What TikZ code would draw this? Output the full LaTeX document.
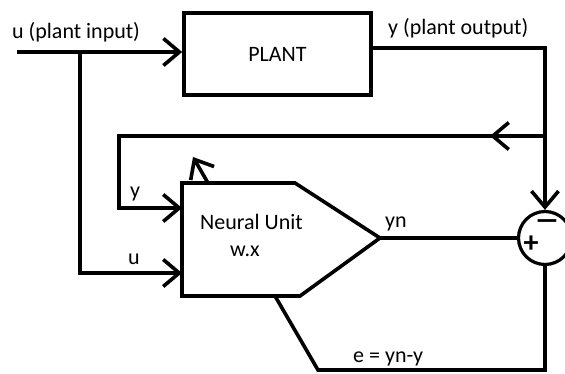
\documentclass[tikz,border=0pt]{standalone}
\usepackage{fontspec}
\setmainfont{Carlito}
\usepackage{tikz}
\usetikzlibrary{arrows.meta,positioning,calc}

\begin{document}
\begin{tikzpicture}[x=1pt,y=-1pt,
  wire/.style={line width=3.6pt},
  arr/.style={wire,-{Straight Barb[length=16pt,width=27pt]}},
  lbl/.style={inner sep=0pt,anchor=base west,font=\fontsize{22}{26}\selectfont},
  sign/.style={inner sep=0pt,anchor=base,font=\fontsize{30}{30}\selectfont\bfseries}]
  \useasboundingbox (0,0) rectangle (565,374);

  % plant
  \node[draw,wire,minimum width=187pt,minimum height=82pt,inner sep=0pt,
    font=\fontsize{22}{26}\selectfont] (plant) at (277.5,54) {PLANT};

  % neural unit
  \coordinate (nuNW) at (182,183);
  \coordinate (nuNE) at (295,183);
  \coordinate (nuTip) at (380,238);
  \coordinate (nuSE) at (300,296);
  \coordinate (nuSW) at (182,296);
  \draw[wire] (nuNW) -- (nuNE) -- (nuTip) -- (nuSE) -- (nuSW) -- cycle;
  \coordinate (nuY) at (182,208);
  \coordinate (nuU) at (182,273);
  \coordinate (nuE) at (275,296);
  \coordinate (nuW) at (208,183);

  % summing junction
  \node[draw,circle,line width=3.2pt,minimum size=53pt,inner sep=0pt] (sum) at (545,238) {};
  \node[sign] (plus) at (531,252) {+};
  \node[sign,xscale=1.6] (minus) at (547,231) {−};

  % signals
  \coordinate (uin) at (17,52);
  \coordinate (ubr) at (80,52);
  \coordinate (pout) at (371,48);
  \coordinate (ybr) at (545,136);
  \coordinate (yfb) at (119,136);
  \coordinate (ecor) at (318,370);
  \coordinate (wtip) at (193,157);

  \draw[arr] (uin) -- (uin -| plant.west);
  \draw[arr] (ubr) |- (nuU);
  \draw[arr] (pout) -| (sum.north);
  \draw[arr] (ybr) -- (yfb) |- (nuY);
  \draw[arr] (ybr) -- ++(-55,0);
  \draw[wire] (nuTip) -- (sum.west);
  \draw[wire] (sum.south) |- (ecor) -- (nuE);
  \draw[arr] (nuW) -- (wtip);

  % labels
  \node[lbl] (uinlbl) at (12,39) {u (plant input)};
  \node[lbl] (youtlbl) at (388,35) {y (plant output)};
  \node[lbl] (ylbl) at (130,198) {y};
  \node[lbl] (ulbl) at (128,265) {u};
  \node[lbl] (nulbl) at (200,230) {Neural Unit};
  \node[lbl] (wlbl) at (230,257) {w.x};
  \node[lbl] (ynlbl) at (385,228) {yn};
  \node[lbl] (elbl) at (353,362) {e = yn-y};
\end{tikzpicture}
\end{document}
